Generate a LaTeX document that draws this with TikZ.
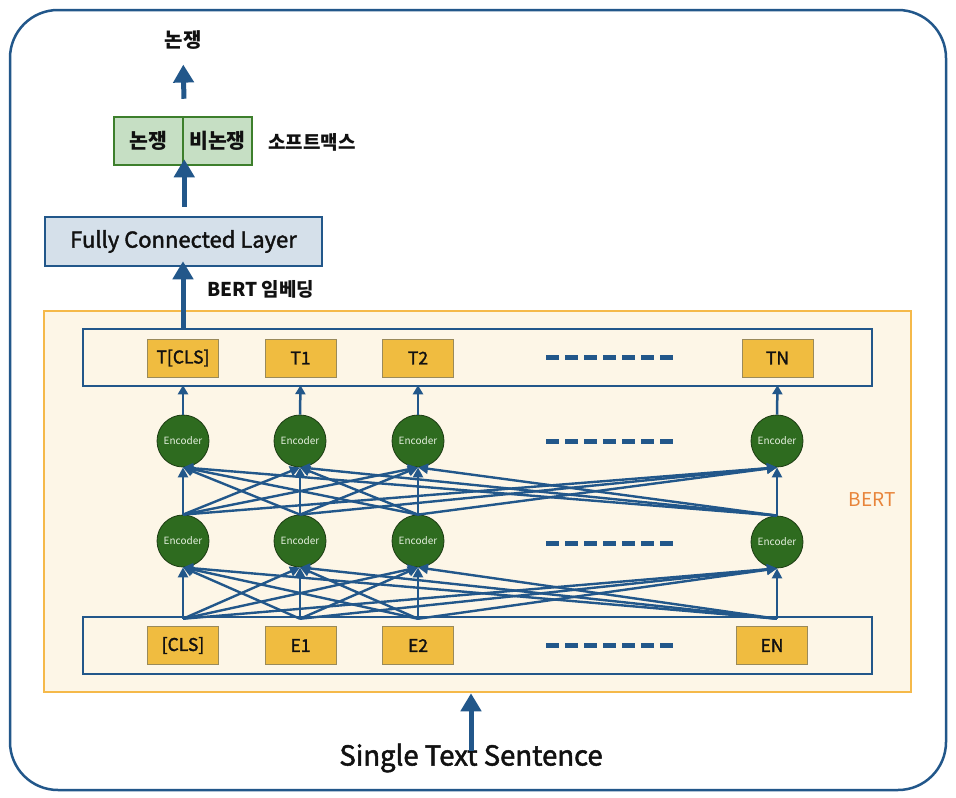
\documentclass[tikz,border=0pt]{standalone}
\usepackage{fontspec}
\setmainfont{Noto Sans CJK KR}
\newfontfamily\medfont[FakeBold=1.8]{Noto Sans CJK KR}
\usetikzlibrary{arrows.meta}
\definecolor{bl}{HTML}{22578A}
\definecolor{bertline}{HTML}{F5B94A}
\definecolor{bertfill}{HTML}{FDF6E7}
\definecolor{ybox}{HTML}{F0BC40}
\definecolor{yline}{HTML}{9A8A5A}
\definecolor{encfill}{HTML}{2E6B1F}
\definecolor{encline}{HTML}{1B3B12}
\definecolor{enctext}{HTML}{E3EEDD}
\definecolor{fcfill}{HTML}{D5E0EA}
\definecolor{smfill}{HTML}{C6DFC4}
\definecolor{smline}{HTML}{3D7F2C}
\definecolor{bertlabel}{HTML}{E8843A}
\definecolor{txt}{HTML}{111111}
\begin{document}
\begin{tikzpicture}[x=1pt,y=-1pt,
  frame/.style={draw=bl,line width=2.5pt,fill=bertfill,minimum width=789pt,minimum height=57pt,inner sep=0pt},
  ybx/.style={draw=yline,line width=0.8pt,fill=ybox,minimum width=71pt,minimum height=38pt,inner sep=0pt,font=\medfont\fontsize{17.5}{20}\selectfont,text=txt},
  enc/.style={circle,draw=encline,line width=0.8pt,fill=encfill,minimum size=52pt,inner sep=0pt,font=\fontsize{10}{11}\selectfont,text=enctext},
  conn/.style={draw=bl,line width=2.4pt,-{Triangle[length=10pt,width=10pt]}},
  small/.style={draw=bl,line width=2.5pt,-{Triangle[length=9pt,width=10pt]}},
  big/.style={draw=bl,line width=5pt,-{Triangle[length=18pt,width=20pt]}},
  dots/.style={draw=bl,line width=5pt,dash pattern=on 13pt off 6pt},
  smb/.style={draw=smline,line width=2.5pt,fill=smfill,minimum width=69pt,minimum height=48pt,inner sep=0pt,font=\bfseries\fontsize{20.5}{22}\selectfont,text=txt},
  lbl/.style={font=\bfseries\fontsize{19}{21}\selectfont,text=txt,inner sep=0pt}
]
\useasboundingbox (0,0) rectangle (956,798);
\fill[white] (0,0) rectangle (956,798);
% outer frame
\draw[bl,line width=2.5pt,rounded corners=48pt] (10,10) rectangle (946,790);
% BERT box
\node[draw=bertline,line width=2.5pt,fill=bertfill,minimum width=867pt,minimum height=381pt,inner sep=0pt] (bert) at (477.5,501.5) {};
\node[text=bertlabel,font=\fontsize{19}{21}\selectfont,inner sep=0pt] (bertlbl) at (872,500) {BERT};
% frames
\node[frame] (tframe) at (477.5,357.5) {};
\node[frame] (eframe) at (477.5,645.5) {};
% token boxes
\node[ybx] (tcls) at (183,358) {T[CLS]};
\node[ybx] (t1) at (300.5,358) {T1};
\node[ybx] (t2) at (418,358) {T2};
\node[ybx] (tn) at (777.5,358) {TN};
\node[ybx] (ecls) at (183,645.5) {[CLS]};
\node[ybx] (e1) at (300.5,645.5) {E1};
\node[ybx] (e2) at (418,645.5) {E2};
\node[ybx] (en) at (772,645.5) {EN};
% dotted rows
\coordinate (d1a) at (546,357); \coordinate (d1b) at (674,357);
\coordinate (d2a) at (546,441); \coordinate (d2b) at (674,441);
\coordinate (d3a) at (546,543); \coordinate (d3b) at (674,543);
\coordinate (d4a) at (546,645); \coordinate (d4b) at (674,645);
\draw[dots] (d1a) -- (d1b);
\draw[dots] (d2a) -- (d2b);
\draw[dots] (d3a) -- (d3b);
\draw[dots] (d4a) -- (d4b);
% encoders
\node[enc] (u0) at (183,441) {Encoder};
\node[enc] (u1) at (300,441) {Encoder};
\node[enc] (u2) at (418,441) {Encoder};
\node[enc] (u3) at (777,441) {Encoder};
\node[enc] (l0) at (183,541) {Encoder};
\node[enc] (l1) at (300,541) {Encoder};
\node[enc] (l2) at (418,541) {Encoder};
\node[enc] (l3) at (777,542) {Encoder};
% sources on E frame
\foreach \i in {0,1,2,3} {\coordinate (s\i) at ([yshift=-3pt]l\i.south |- eframe.north);}
% connections E -> lower encoders
\foreach \i in {0,1,2,3} {\foreach \j in {0,1,2,3} {\draw[conn] (s\i) -- (l\j.south);}}
% connections lower -> upper encoders
\foreach \i in {0,1,2,3} {\foreach \j in {0,1,2,3} {\draw[conn] (l\i.north) -- (u\j.south);}}
% upper encoders -> T frame
\draw[small] (u0.north) -- ([yshift=2pt]tcls |- tframe.south);
\draw[small] (u1.north) -- ([yshift=2pt]t1 |- tframe.south);
\draw[small] (u2.north) -- ([yshift=2pt]t2 |- tframe.south);
\draw[small] (u3.north) -- ([yshift=2pt]tn |- tframe.south);
% FC layer
\node[draw=bl,line width=2.5pt,fill=fcfill,minimum width=277pt,minimum height=49pt,inner sep=0pt,font=\medfont\fontsize{22}{24}\selectfont,text=txt] (fc) at (183.5,241.5) {Fully Connected Layer};
\draw[big] (tcls |- tframe.north) -- ([yshift=6pt]tcls |- fc.south);
\node[lbl,anchor=west] (emb) at (207,289) {BERT 임베딩};
% softmax
\node[smb] (sm1) at (148.5,141) {논쟁};
\node[smb] (sm2) at (217.5,141) {비논쟁};
\node[lbl,anchor=west] (smlbl) at (268,142) {소프트맥스};
\draw[big,shorten <=9pt] (fc.north -| sm1.east) -- ([yshift=7pt]sm1.south east);
% output
\node[lbl,font=\bfseries\fontsize{20}{22}\selectfont] (out) at (183,40) {논쟁};
\draw[big,shorten <=17pt,shorten >=15pt] (sm1.north east) -- (out.south);
% input
\node[font=\medfont\fontsize{27.5}{29}\selectfont,text=txt,inner sep=0pt] (inp) at (471,758) {Single Text Sentence};
\draw[big] ([yshift=-8pt]inp.north) -- (inp.north |- bert.south);
\end{tikzpicture}
\end{document}
